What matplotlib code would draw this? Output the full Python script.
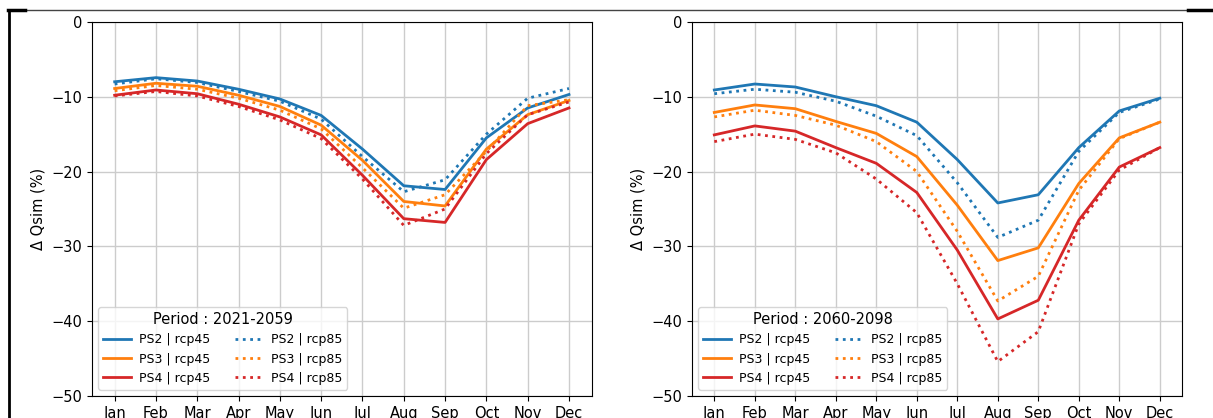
import matplotlib.pyplot as plt
from matplotlib.lines import Line2D

months = ["Jan", "Feb", "Mar", "Apr", "May", "Jun", "Jul", "Aug", "Sep", "Oct", "Nov", "Dec"]

# period 2021-2059
p1_ps2_45 = [-8.0, -7.45, -7.9, -9.0, -10.3, -12.5, -17.0, -21.9, -22.4, -15.5, -11.5, -9.7]
p1_ps2_85 = [-8.3, -7.6, -8.1, -9.3, -10.6, -13.0, -18.0, -22.7, -21.1, -15.0, -10.2, -8.9]
p1_ps3_45 = [-8.9, -8.2, -8.6, -9.8, -11.3, -13.8, -18.5, -24.0, -24.6, -17.0, -12.4, -10.5]
p1_ps3_85 = [-9.2, -8.5, -9.0, -10.2, -11.8, -14.3, -19.5, -24.9, -23.1, -17.3, -11.2, -10.4]
p1_ps4_45 = [-9.8, -9.1, -9.6, -11.0, -12.7, -15.1, -20.5, -26.3, -26.8, -18.4, -13.6, -11.5]
p1_ps4_85 = [-9.9, -9.3, -9.9, -11.3, -13.1, -15.6, -21.0, -27.2, -25.0, -17.6, -12.4, -10.7]

# period 2060-2098
p2_ps2_45 = [-9.1, -8.3, -8.7, -10.0, -11.2, -13.4, -18.4, -24.2, -23.1, -16.8, -11.9, -10.2]
p2_ps2_85 = [-9.6, -9.0, -9.4, -10.6, -12.6, -15.2, -21.5, -28.8, -26.5, -17.3, -12.1, -10.3]
p2_ps3_45 = [-12.1, -11.1, -11.6, -13.3, -14.9, -18.0, -24.5, -31.9, -30.2, -21.6, -15.5, -13.4]
p2_ps3_85 = [-12.7, -11.8, -12.5, -13.8, -16.0, -20.0, -28.0, -37.3, -34.0, -22.5, -15.6, -13.4]
p2_ps4_45 = [-15.1, -13.9, -14.6, -16.8, -18.9, -22.8, -30.5, -39.7, -37.2, -26.5, -19.4, -16.8]
p2_ps4_85 = [-16.0, -15.0, -15.7, -17.5, -21.0, -25.5, -35.0, -45.4, -41.4, -27.0, -19.8, -16.8]

periods = ["2021-2059", "2060-2098"]
data = [
    [p1_ps2_45, p1_ps3_45, p1_ps4_45, p1_ps2_85, p1_ps3_85, p1_ps4_85],
    [p2_ps2_45, p2_ps3_45, p2_ps4_45, p2_ps2_85, p2_ps3_85, p2_ps4_85],
]
labels = ["PS2 | rcp45", "PS3 | rcp45", "PS4 | rcp45",
          "PS2 | rcp85", "PS3 | rcp85", "PS4 | rcp85"]
colors = ["tab:blue", "tab:orange", "tab:red"] * 2
styles = ["-"] * 3 + [":"] * 3

fig = plt.figure(figsize=(12.13, 4.18), dpi=100)
axes = [fig.add_axes([0.0758, 0.0526, 0.412, 0.895]),
        fig.add_axes([0.5705, 0.0526, 0.404, 0.895])]

for ax, period, series in zip(axes, periods, data):
    for vals, lab, c, ls in zip(series, labels, colors, styles):
        ax.plot(months, vals, color=c, linestyle=ls, linewidth=2, label=lab)
    ax.set_ylim(-50, 0)
    ax.set_yticks([0, -10, -20, -30, -40, -50])
    ax.grid(True, color="#cccccc", linewidth=1)
    ax.set_axisbelow(True)
    ax.tick_params(labelsize=10.5)
    ax.set_ylabel("Δ Qsim (%)", fontsize=10.5)
    ax.legend(loc="lower left", ncol=2, fontsize=9,
              title="Period : " + period, title_fontsize=10.5,
              handlelength=2.2, handletextpad=0.65, columnspacing=2.0)

# frame lines around the figure
fig.add_artist(Line2D([8 / 1213, 1 - 25 / 1213], [1 - 10 / 418, 1 - 10 / 418],
                      color="#444444", linewidth=1, transform=fig.transFigure))
fig.add_artist(Line2D([8 / 1213, 25 / 1213], [1 - 10 / 418, 1 - 10 / 418],
                      color="black", linewidth=2.5, transform=fig.transFigure))
fig.add_artist(Line2D([1 - 25 / 1213, 1], [1 - 10 / 418, 1 - 10 / 418],
                      color="black", linewidth=2.5, transform=fig.transFigure))
fig.add_artist(Line2D([8.5 / 1213, 8.5 / 1213], [0, 1 - 10 / 418],
                      color="black", linewidth=2, transform=fig.transFigure))

fig.savefig("out.png", dpi=100)
